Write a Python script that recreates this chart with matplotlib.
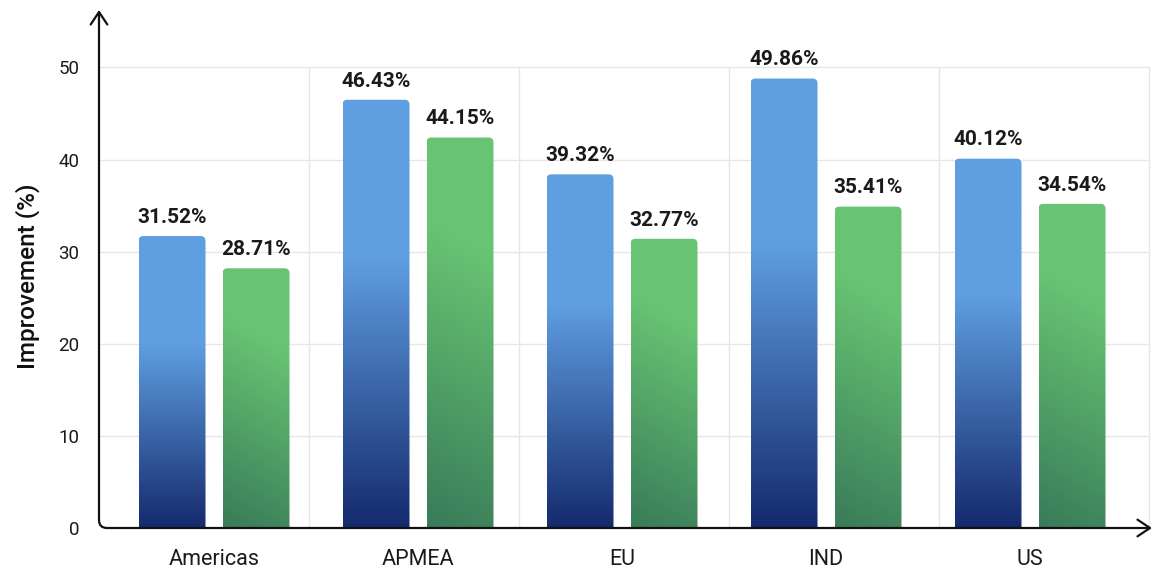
import numpy as np
import matplotlib
matplotlib.use("Agg")
import matplotlib.pyplot as plt
from matplotlib.path import Path
from matplotlib.patches import PathPatch
from matplotlib.colors import to_rgb

regions = ["Americas", "APMEA", "EU", "IND", "US"]
blue_vals = [31.7, 46.5, 38.4, 48.8, 40.1]
green_vals = [28.2, 42.4, 31.4, 34.9, 35.2]
blue_labels = ["31.52%", "46.43%", "39.32%", "49.86%", "40.12%"]
green_labels = ["28.71%", "44.15%", "32.77%", "35.41%", "34.54%"]
yticks = [0, 10, 20, 30, 40, 50]

plt.rcParams["font.family"] = ["Roboto", "DejaVu Sans"]

W, H = 1154, 569
fig = plt.figure(figsize=(W / 100, H / 100), dpi=100)
ax_l, ax_r, ax_b, ax_t = 99, 1152, 528, 10
ax = fig.add_axes([ax_l / W, (H - ax_b) / H, (ax_r - ax_l) / W, (ax_b - ax_t) / H])

# pixel scales
px_per_x = 204.0
px_per_y = 9.21
x0 = (ax_l - 214) / px_per_x
x1 = (ax_r - 214) / px_per_x
ax.set_xlim(x0, x1)
ax.set_ylim(0, (ax_b - ax_t) / px_per_y)
for s in ax.spines.values():
    s.set_visible(False)

x = np.arange(len(regions))
bw = 67 / px_per_x
off = 42 / px_per_x

# grid
grid_c = "#e6e6e6"
ax.hlines(yticks[1:], x0, 4.585, color=grid_c, lw=1, zorder=0)
bounds = np.linspace(x0, 4.585, 6)[1:]
ax.vlines(bounds, 0, 50, color=grid_c, lw=1, zorder=0)


def top_rounded(xa, xb, h, rx, ry):
    verts = [(xa, 0), (xa, h - ry), (xa, h), (xa + rx, h), (xb - rx, h),
             (xb, h), (xb, h - ry), (xb, 0), (xa, 0)]
    codes = [Path.MOVETO, Path.LINETO, Path.CURVE3, Path.CURVE3, Path.LINETO,
             Path.CURVE3, Path.CURVE3, Path.LINETO, Path.CLOSEPOLY]
    return Path(verts, codes)


light_b = np.array(to_rgb("#5f9ee1"))
dark_b = np.array(to_rgb("#142a6d"))
light_g = np.array(to_rgb("#68c473"))
dark_g = np.array(to_rgb("#397b59"))
rx = 5 / px_per_x
ry = 5 / px_per_y


def blue_img(h):
    n = 300
    t = np.linspace(0, 1, n)[:, None]  # 0 top, 1 bottom
    f = np.clip((t - 0.37) / 0.63, 0, 1)
    img = light_b[None, None, :] * (1 - f[..., None]) + dark_b[None, None, :] * f[..., None]
    return np.repeat(img, 2, axis=1)


def green_img(h):
    hp = h * px_per_y
    wp = 67.0
    k = 0.55
    ny, nx = 200, 40
    v = np.linspace(1, 0, ny)[:, None]
    u = np.linspace(0, 1, nx)[None, :]
    s = (v * hp + k * u * wp) / (hp + k * wp)
    f = np.clip(s / 0.72, 0, 1)
    return dark_g[None, None, :] * (1 - f[..., None]) + light_g[None, None, :] * f[..., None]


for i in range(len(regions)):
    for xc, h, lab, kind in [(x[i] - off, blue_vals[i], blue_labels[i], "b"),
                             (x[i] + off, green_vals[i], green_labels[i], "g")]:
        xa, xb = xc - bw / 2, xc + bw / 2
        path = top_rounded(xa, xb, h, rx, ry)
        patch = PathPatch(path, facecolor="none", edgecolor="none", transform=ax.transData)
        ax.add_patch(patch)
        img = blue_img(h) if kind == "b" else green_img(h)
        im = ax.imshow(img, extent=[xa, xb, 0, h], aspect="auto",
                       interpolation="bilinear", zorder=2)
        im.set_clip_path(patch)
        ax.annotate(lab, (xc, h), xytext=(0, 9.5), textcoords="offset points",
                    ha="center", va="baseline", fontsize=15, fontweight="bold",
                    color="#1a1a1a", zorder=3)

ax.set_xticks(x)
ax.set_xticklabels(regions, fontsize=15.5, color="#1a1a1a")
ax.set_yticks(yticks)
ax.set_yticklabels([str(v) for v in yticks], fontsize=13.5, color="#1a1a1a")
ax.tick_params(axis="x", length=0, pad=15)
ax.tick_params(axis="y", length=0, pad=14)
ax.set_ylabel("Improvement (%)", fontsize=17.5, fontweight="medium", color="#111111")
ax.yaxis.set_label_coords(-0.056, 0.486)

# axes with arrows and a rounded corner
rxa = 8 / (ax_r - ax_l)
rya = 8 / (ax_b - ax_t)
corner = Path([(0, rya), (0, 0), (rxa, 0)], [Path.MOVETO, Path.CURVE3, Path.CURVE3])
ax.add_patch(PathPatch(corner, facecolor="none", edgecolor="#111111", lw=1.6,
                       transform=ax.transAxes, clip_on=False, zorder=4))
arrow = dict(arrowstyle="->,head_length=0.45,head_width=0.3", color="#111111",
             lw=1.6, shrinkA=0, shrinkB=0, mutation_scale=20)
ax.annotate("", xy=(0, 1), xytext=(0, rya), xycoords="axes fraction",
            arrowprops=arrow, zorder=4)
ax.annotate("", xy=(1, 0), xytext=(rxa, 0), xycoords="axes fraction",
            arrowprops=arrow, zorder=4)

fig.savefig("out.png", dpi=100)
